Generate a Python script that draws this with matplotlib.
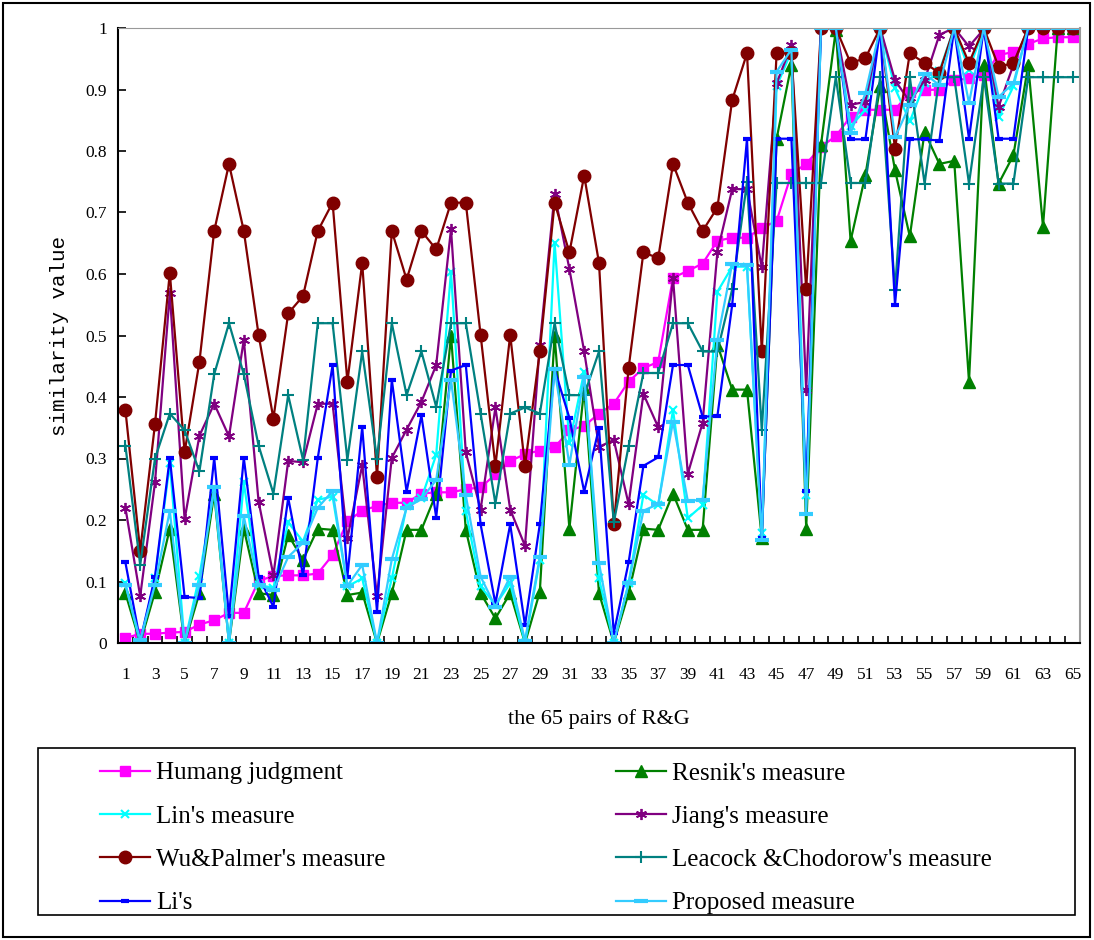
import numpy as np
import matplotlib
matplotlib.use('Agg')
import matplotlib.pyplot as plt
from matplotlib.patches import Rectangle

# 65 par R&G
pary = np.arange(1, 66)

human = [0.008, 0.015, 0.015, 0.017, 0.018, 0.03, 0.037, 0.049, 0.049, 0.101,
         0.109, 0.11, 0.11, 0.113, 0.143, 0.198, 0.215, 0.223, 0.228, 0.228,
         0.243, 0.245, 0.245, 0.25, 0.253, 0.274, 0.296, 0.307, 0.313, 0.318,
         0.346, 0.353, 0.373, 0.389, 0.425, 0.447, 0.457, 0.594, 0.605, 0.617,
         0.654, 0.659, 0.659, 0.675, 0.686, 0.763, 0.779, 0.807, 0.824, 0.856,
         0.867, 0.867, 0.867, 0.896, 0.899, 0.9, 0.915, 0.918, 0.924, 0.956,
         0.961, 0.974, 0.983, 0.985, 0.985]
resnik = [0.081, 0.0, 0.083, 0.186, 0.0, 0.081, 0.243, 0.0, 0.186, 0.081,
          0.078, 0.176, 0.135, 0.186, 0.184, 0.078, 0.082, 0.0, 0.081, 0.184,
          0.184, 0.243, 0.5, 0.184, 0.081, 0.04, 0.081, 0.0, 0.083, 0.5,
          0.186, 0.414, 0.081, 0.0, 0.081, 0.186, 0.184, 0.243, 0.184, 0.184,
          0.485, 0.412, 0.412, 0.17, 0.82, 0.94, 0.186, 0.81, 0.997, 0.654,
          0.761, 0.905, 0.769, 0.661, 0.831, 0.779, 0.784, 0.425, 0.94, 0.747,
          0.793, 0.94, 0.677, 1.0, 1.0]
lin = [0.097, 0.0, 0.105, 0.292, 0.0, 0.109, 0.25, 0.0, 0.261, 0.094,
       0.09, 0.196, 0.165, 0.233, 0.238, 0.092, 0.105, 0.0, 0.105, 0.222,
       0.235, 0.306, 0.604, 0.214, 0.092, 0.062, 0.097, 0.0, 0.135, 0.651,
       0.325, 0.441, 0.105, 0.0, 0.097, 0.241, 0.224, 0.379, 0.203, 0.224,
       0.571, 0.612, 0.612, 0.179, 0.905, 0.962, 0.24, 1.0, 1.0, 0.84,
       0.867, 1.0, 0.902, 0.848, 0.91, 0.93, 1.0, 0.932, 1.0, 0.855,
       0.905, 1.0, 1.0, 1.0, 1.0]
jiang = [0.22, 0.076, 0.261, 0.569, 0.201, 0.337, 0.389, 0.336, 0.493, 0.23,
         0.11, 0.296, 0.294, 0.389, 0.389, 0.17, 0.289, 0.076, 0.301, 0.347,
         0.392, 0.452, 0.673, 0.31, 0.217, 0.383, 0.217, 0.158, 0.485, 0.73,
         0.608, 0.474, 0.319, 0.33, 0.226, 0.405, 0.351, 0.594, 0.275, 0.358,
         0.636, 0.738, 0.738, 0.611, 0.91, 0.972, 0.411, 1.0, 1.0, 0.875,
         0.88, 1.0, 0.915, 0.88, 0.915, 0.989, 1.0, 0.97, 0.998, 0.872,
         0.94, 1.0, 1.0, 1.0, 1.0]
wu_palmer = [0.379, 0.15, 0.356, 0.602, 0.31, 0.457, 0.67, 0.779, 0.67, 0.501,
             0.365, 0.536, 0.564, 0.67, 0.716, 0.425, 0.618, 0.27, 0.67, 0.591,
             0.67, 0.64, 0.716, 0.716, 0.501, 0.288, 0.501, 0.288, 0.474, 0.716,
             0.635, 0.76, 0.618, 0.193, 0.447, 0.635, 0.626, 0.779, 0.716, 0.67,
             0.708, 0.883, 0.959, 0.474, 0.959, 0.959, 0.575, 1.0, 1.0, 0.943,
             0.951, 1.0, 0.804, 0.959, 0.943, 0.927, 1.0, 0.943, 1.0, 0.937,
             0.943, 1.0, 1.0, 1.0, 1.0]
leacock = [0.321, 0.127, 0.3, 0.373, 0.346, 0.279, 0.437, 0.52, 0.437, 0.321,
           0.243, 0.403, 0.298, 0.52, 0.52, 0.298, 0.474, 0.299, 0.52, 0.403,
           0.474, 0.384, 0.52, 0.52, 0.373, 0.227, 0.373, 0.383, 0.373, 0.52,
           0.403, 0.403, 0.474, 0.196, 0.32, 0.439, 0.439, 0.52, 0.52, 0.474,
           0.474, 0.575, 0.749, 0.346, 0.748, 0.748, 0.748, 0.748, 0.92, 0.748,
           0.748, 0.92, 0.574, 0.92, 0.747, 0.92, 0.92, 0.747, 0.92, 0.747,
           0.747, 0.92, 0.92, 0.92, 0.92]
li = [0.131, 0.003, 0.108, 0.301, 0.075, 0.073, 0.301, 0.044, 0.301, 0.108,
      0.059, 0.236, 0.11, 0.301, 0.452, 0.108, 0.351, 0.051, 0.428, 0.246,
      0.37, 0.204, 0.443, 0.452, 0.193, 0.064, 0.193, 0.029, 0.193, 0.445,
      0.366, 0.246, 0.35, 0.016, 0.131, 0.288, 0.302, 0.452, 0.452, 0.368,
      0.369, 0.55, 0.82, 0.17, 0.82, 0.82, 0.247, 1.0, 1.0, 0.819,
      0.819, 1.0, 0.55, 0.819, 0.819, 0.817, 1.0, 0.82, 1.0, 0.82,
      0.82, 1.0, 1.0, 1.0, 1.0]
proposed = [0.094, 0.005, 0.095, 0.215, 0.0, 0.095, 0.253, 0.0, 0.206, 0.094,
            0.086, 0.14, 0.163, 0.22, 0.247, 0.093, 0.127, 0.0, 0.136, 0.22,
            0.234, 0.265, 0.428, 0.24, 0.108, 0.059, 0.108, 0.004, 0.14, 0.445,
            0.29, 0.433, 0.13, 0.0, 0.097, 0.215, 0.226, 0.36, 0.231, 0.233,
            0.493, 0.617, 0.615, 0.167, 0.929, 0.965, 0.209, 1.0, 1.0, 0.829,
            0.894, 1.0, 0.822, 0.875, 0.926, 0.907, 1.0, 0.878, 1.0, 0.888,
            0.91, 1.0, 1.0, 1.0, 1.0]

fig = plt.figure(figsize=(10.94, 9.40), dpi=100)
ax = fig.add_axes([118 / 1094, 1 - 643 / 940, 962 / 1094, 615 / 940])

lw = 1.6
h1, = ax.plot(pary, human, color='#FF00FF', marker='s', ms=7, lw=lw, label='Humang judgment')
h2, = ax.plot(pary, resnik, color='#008000', marker='^', ms=8, lw=lw, label="Resnik's measure")
h3, = ax.plot(pary, lin, color='#00FFFF', marker='x', ms=6, mew=1.5, lw=lw, label="Lin's measure")
h4, = ax.plot(pary, jiang, color='#800080', marker=(6, 2, 0), ms=8, mew=1.3, lw=lw, label="Jiang's measure")
h5, = ax.plot(pary, wu_palmer, color='#800000', marker='o', ms=9, lw=lw, label="Wu&Palmer's measure")
h6, = ax.plot(pary, leacock, color='#008080', marker='+', ms=8, mew=1.5, lw=lw, label="Leacock &Chodorow's measure")
h7, = ax.plot(pary, li, color='#0000FF', marker='_', ms=6, mew=3, lw=lw, label="Li's")
h8, = ax.plot(pary, proposed, color='#33CCFF', marker='_', ms=10, mew=3, lw=lw, label='Proposed measure')

ax.set_xlim(0.5, 65.5)
ax.set_ylim(0, 1)
ax.set_yticks(np.arange(0, 1.01, 0.1))
ax.set_yticklabels(['0', '0.1', '0.2', '0.3', '0.4', '0.5', '0.6', '0.7', '0.8', '0.9', '1'])
ax.set_xticks(pary[::2])
ax.set_xticklabels([str(p) for p in pary[::2]])
ax.set_xticks(np.arange(0.5, 66, 1), minor=True)
ax.tick_params(axis='x', which='major', length=0, pad=17)
ax.tick_params(axis='x', which='minor', direction='in', length=5, width=1.2)
ax.tick_params(axis='y', direction='in', length=6, width=1.2, pad=8)
for lab in ax.get_xticklabels() + ax.get_yticklabels():
    lab.set_fontfamily('Liberation Serif')
    lab.set_fontsize(12.5)

ax.spines['left'].set_linewidth(1.5)
ax.spines['bottom'].set_linewidth(1.5)
ax.spines['top'].set_color('#999999')
ax.spines['right'].set_color('#999999')
ax.spines['right'].set_linewidth(1.5)

ax.set_xlabel('the 65 pairs of R&G', fontfamily='Liberation Serif', fontsize=16, labelpad=19)
ax.set_ylabel('similarity value', fontfamily='Liberation Mono', fontsize=15, labelpad=12)

# legenda w dwoch kolumnach, kolejnosc wierszami
uchwyty = [h1, h3, h5, h7, h2, h4, h6, h8]
leg = fig.legend(handles=uchwyty, loc='upper left', ncol=2,
                 bbox_to_anchor=(100 / 1094, 1 - 762 / 940),
                 prop={'family': 'Liberation Serif', 'size': 18},
                 frameon=False, handlelength=2.0, handletextpad=0.25,
                 columnspacing=9.2, labelspacing=0.83, borderpad=0, borderaxespad=0)

# ramka legendy
fig.patches.append(Rectangle((38 / 1094, 1 - 915 / 940), 1037 / 1094, 167 / 940,
                             transform=fig.transFigure, fill=False,
                             edgecolor='black', linewidth=1.2))
# ramka wokol calego wykresu
fig.patches.append(Rectangle((3 / 1094, 3 / 940), 1087 / 1094, 934 / 940,
                             transform=fig.transFigure, fill=False,
                             edgecolor='black', linewidth=1.5))

plt.savefig('out.png', dpi=100)
